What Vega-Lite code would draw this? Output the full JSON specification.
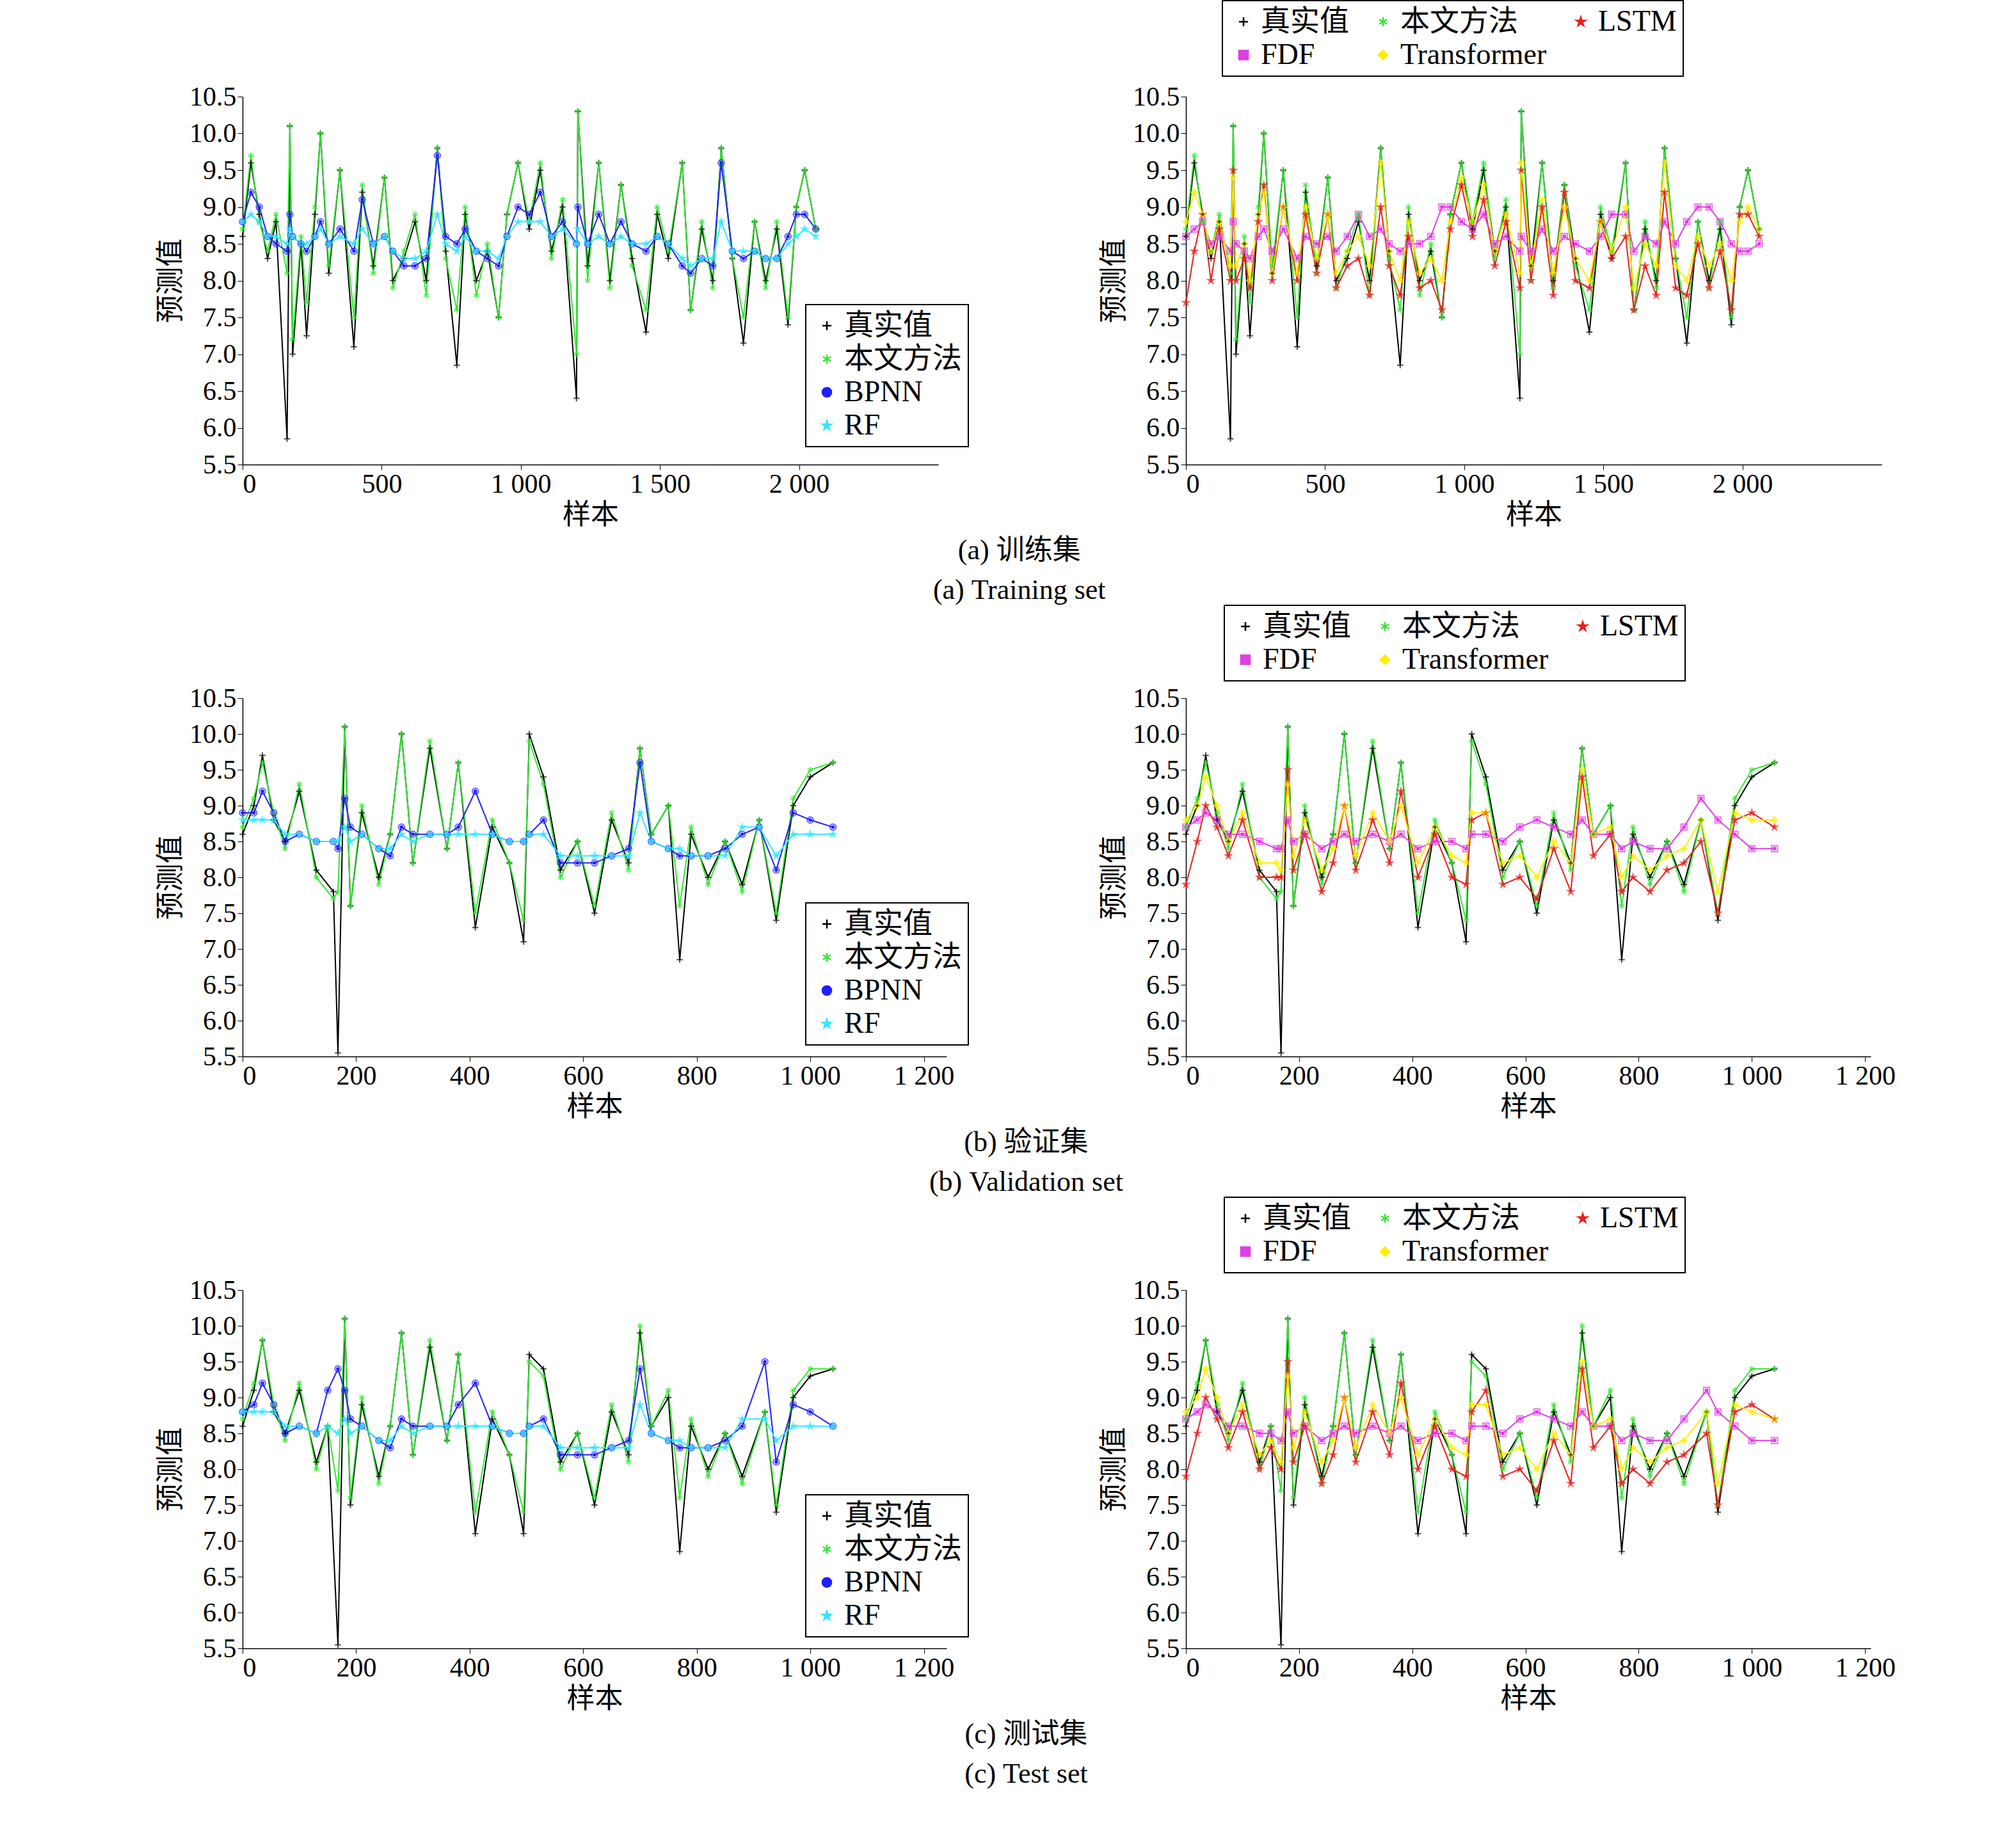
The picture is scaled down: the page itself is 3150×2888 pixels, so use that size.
{
  "$schema": "https://vega.github.io/schema/vega-lite/v6.json",
  "background": "white",
  "padding": {"left": 245, "top": 0, "right": 20, "bottom": 0},
  "config": {
    "view": {"stroke": null},
    "font": "Liberation Serif, Noto Sans CJK SC",
    "axis": {"grid": false, "domainColor": "#000", "tickColor": "#000", "labelColor": "#000", "titleColor": "#000", "labelFont": "Liberation Serif", "labelFontSize": 42, "titleFont": "Liberation Serif, Noto Sans CJK SC", "titleFontSize": 44, "titleFontWeight": "normal", "tickSize": 8, "domainWidth": 1.5, "titlePadding": 6},
    "legend": {"labelFont": "Liberation Serif, Noto Sans CJK SC", "labelFontSize": 46, "labelColor": "#000", "labelLimit": 0, "strokeColor": "#000", "strokeWidth": 2, "padding": 10, "symbolSize": 200, "symbolStrokeWidth": 2.5, "rowPadding": 6, "symbolFillColor": "transparent", "title": null},
    "title": {"font": "Liberation Serif, Noto Sans CJK SC", "fontSize": 44, "fontWeight": "normal", "color": "#000", "orient": "bottom", "anchor": "middle", "offset": 12, "lineHeight": 62}
  },
  "datasets": {
    "r1": [
      {"x":0,"t":8.6,"o":8.7,"b":8.8,"r":8.8,"l":7.7,"f":8.6,"y":8.8},
      {"x":30,"t":9.6,"o":9.7,"b":9.2,"r":8.9,"l":8.4,"f":8.7,"y":9.2},
      {"x":60,"t":8.9,"o":8.8,"b":9.0,"r":8.8,"l":8.9,"f":8.8,"y":8.9},
      {"x":90,"t":8.3,"o":8.4,"b":8.6,"r":8.6,"l":8.0,"f":8.5,"y":8.4},
      {"x":120,"t":8.8,"o":8.9,"b":8.5,"r":8.6,"l":8.7,"f":8.6,"y":8.8},
      {"x":160,"t":5.85,"o":8.1,"b":8.4,"r":8.5,"l":8.0,"f":8.4,"y":8.2},
      {"x":170,"t":10.1,"o":10.1,"b":8.9,"r":8.7,"l":9.5,"f":8.8,"y":9.4},
      {"x":180,"t":7.0,"o":7.2,"b":8.6,"r":8.6,"l":8.0,"f":8.5,"y":8.2},
      {"x":210,"t":8.5,"o":8.6,"b":8.5,"r":8.5,"l":8.3,"f":8.4,"y":8.5},
      {"x":230,"t":7.25,"o":7.7,"b":8.4,"r":8.5,"l":7.9,"f":8.3,"y":8.0},
      {"x":260,"t":8.9,"o":9.0,"b":8.6,"r":8.6,"l":8.8,"f":8.6,"y":8.9},
      {"x":280,"t":10.0,"o":10.0,"b":8.8,"r":8.7,"l":9.3,"f":8.7,"y":9.2},
      {"x":310,"t":8.1,"o":8.2,"b":8.5,"r":8.5,"l":8.0,"f":8.4,"y":8.1},
      {"x":350,"t":9.5,"o":9.5,"b":8.7,"r":8.6,"l":9.0,"f":8.7,"y":9.0},
      {"x":400,"t":7.1,"o":7.5,"b":8.4,"r":8.5,"l":8.0,"f":8.3,"y":8.1},
      {"x":430,"t":9.2,"o":9.3,"b":9.1,"r":8.7,"l":8.9,"f":8.6,"y":9.0},
      {"x":470,"t":8.2,"o":8.1,"b":8.5,"r":8.5,"l":8.1,"f":8.5,"y":8.3},
      {"x":510,"t":9.4,"o":9.4,"b":8.6,"r":8.6,"l":8.9,"f":8.6,"y":8.9},
      {"x":540,"t":8.0,"o":7.9,"b":8.4,"r":8.4,"l":7.9,"f":8.4,"y":8.1},
      {"x":580,"t":8.3,"o":8.4,"b":8.2,"r":8.3,"l":8.2,"f":8.6,"y":8.4},
      {"x":620,"t":8.8,"o":8.9,"b":8.2,"r":8.3,"l":8.3,"f":8.9,"y":8.6},
      {"x":660,"t":8.0,"o":7.8,"b":8.3,"r":8.4,"l":7.8,"f":8.6,"y":8.2},
      {"x":700,"t":9.8,"o":9.8,"b":9.7,"r":8.9,"l":9.0,"f":8.7,"y":9.6},
      {"x":730,"t":8.4,"o":8.3,"b":8.6,"r":8.5,"l":8.2,"f":8.5,"y":8.4},
      {"x":770,"t":6.85,"o":7.6,"b":8.5,"r":8.4,"l":7.8,"f":8.4,"y":8.0},
      {"x":800,"t":8.9,"o":9.0,"b":8.7,"r":8.6,"l":8.6,"f":8.5,"y":8.8},
      {"x":840,"t":8.0,"o":7.8,"b":8.4,"r":8.4,"l":7.9,"f":8.5,"y":8.1},
      {"x":880,"t":8.4,"o":8.5,"b":8.3,"r":8.4,"l":8.0,"f":8.6,"y":8.3},
      {"x":920,"t":7.5,"o":7.5,"b":8.2,"r":8.3,"l":7.6,"f":9.0,"y":8.0},
      {"x":950,"t":8.9,"o":8.9,"b":8.6,"r":8.6,"l":8.7,"f":9.0,"y":8.8},
      {"x":990,"t":9.6,"o":9.6,"b":9.0,"r":8.8,"l":9.3,"f":8.8,"y":9.4},
      {"x":1030,"t":8.7,"o":8.8,"b":8.9,"r":8.8,"l":8.6,"f":8.7,"y":8.8},
      {"x":1070,"t":9.5,"o":9.6,"b":9.2,"r":8.8,"l":9.1,"f":8.9,"y":9.3},
      {"x":1110,"t":8.4,"o":8.3,"b":8.6,"r":8.6,"l":8.2,"f":8.5,"y":8.4},
      {"x":1150,"t":9.0,"o":9.1,"b":8.8,"r":8.7,"l":8.8,"f":8.6,"y":8.9},
      {"x":1200,"t":6.4,"o":7.0,"b":8.5,"r":8.5,"l":7.9,"f":8.4,"y":8.1},
      {"x":1205,"t":10.3,"o":10.3,"b":9.0,"r":8.7,"l":9.5,"f":8.6,"y":9.6},
      {"x":1240,"t":8.2,"o":8.0,"b":8.5,"r":8.5,"l":8.0,"f":8.4,"y":8.2},
      {"x":1280,"t":9.6,"o":9.6,"b":8.9,"r":8.6,"l":9.0,"f":8.7,"y":9.1},
      {"x":1320,"t":8.0,"o":7.9,"b":8.5,"r":8.5,"l":7.8,"f":8.4,"y":8.1},
      {"x":1360,"t":9.3,"o":9.3,"b":8.8,"r":8.6,"l":9.2,"f":8.6,"y":9.0},
      {"x":1400,"t":8.3,"o":8.2,"b":8.5,"r":8.5,"l":8.0,"f":8.5,"y":8.3},
      {"x":1450,"t":7.3,"o":7.6,"b":8.4,"r":8.5,"l":7.9,"f":8.4,"y":8.0},
      {"x":1490,"t":8.9,"o":9.0,"b":8.6,"r":8.6,"l":8.8,"f":8.6,"y":8.8},
      {"x":1530,"t":8.3,"o":8.4,"b":8.5,"r":8.5,"l":8.3,"f":8.9,"y":8.4},
      {"x":1580,"t":9.6,"o":9.6,"b":8.2,"r":8.3,"l":8.6,"f":8.9,"y":9.0},
      {"x":1610,"t":7.6,"o":7.6,"b":8.1,"r":8.2,"l":7.6,"f":8.4,"y":7.9},
      {"x":1650,"t":8.7,"o":8.8,"b":8.3,"r":8.3,"l":8.2,"f":8.6,"y":8.5},
      {"x":1690,"t":8.0,"o":7.9,"b":8.2,"r":8.3,"l":7.8,"f":8.5,"y":8.2},
      {"x":1720,"t":9.8,"o":9.8,"b":9.6,"r":8.8,"l":9.2,"f":8.8,"y":9.6},
      {"x":1760,"t":8.3,"o":8.3,"b":8.4,"r":8.4,"l":7.9,"f":8.5,"y":8.2},
      {"x":1800,"t":7.15,"o":7.5,"b":8.3,"r":8.4,"l":7.8,"f":8.8,"y":8.0},
      {"x":1840,"t":8.8,"o":8.8,"b":8.4,"r":8.4,"l":8.5,"f":9.0,"y":8.6},
      {"x":1880,"t":8.0,"o":7.9,"b":8.3,"r":8.3,"l":7.9,"f":9.0,"y":8.2},
      {"x":1920,"t":8.7,"o":8.8,"b":8.3,"r":8.3,"l":8.4,"f":8.8,"y":8.5},
      {"x":1960,"t":7.4,"o":7.5,"b":8.6,"r":8.5,"l":7.6,"f":8.5,"y":8.0},
      {"x":1990,"t":9.0,"o":9.0,"b":8.9,"r":8.6,"l":8.9,"f":8.4,"y":8.8},
      {"x":2020,"t":9.5,"o":9.5,"b":8.9,"r":8.7,"l":8.9,"f":8.4,"y":9.0},
      {"x":2060,"t":8.7,"o":8.7,"b":8.7,"r":8.6,"l":8.6,"f":8.5,"y":8.7}
    ],
    "r2": [
      {"x":0,"t":8.6,"o":8.7,"b":8.9,"r":8.8,"l":7.9,"f":8.7,"y":8.8},
      {"x":20,"t":9.0,"o":9.1,"b":8.9,"r":8.8,"l":8.5,"f":8.8,"y":9.0},
      {"x":35,"t":9.7,"o":9.6,"b":9.2,"r":8.8,"l":9.0,"f":8.9,"y":9.4},
      {"x":55,"t":8.8,"o":8.9,"b":8.9,"r":8.8,"l":8.7,"f":8.8,"y":9.0},
      {"x":75,"t":8.5,"o":8.4,"b":8.5,"r":8.6,"l":8.3,"f":8.6,"y":8.5},
      {"x":100,"t":9.2,"o":9.3,"b":8.6,"r":8.6,"l":8.8,"f":8.6,"y":8.9},
      {"x":130,"t":8.1,"o":8.0,"b":8.5,"r":8.5,"l":8.0,"f":8.5,"y":8.2},
      {"x":160,"t":7.8,"o":7.7,"b":8.5,"r":8.5,"l":8.0,"f":8.4,"y":8.2},
      {"x":168,"t":5.55,"o":7.8,"b":8.4,"r":8.5,"l":8.0,"f":8.4,"y":8.1},
      {"x":180,"t":10.1,"o":10.1,"b":9.1,"r":8.7,"l":9.5,"f":8.8,"y":9.3},
      {"x":190,"t":7.6,"o":7.6,"b":8.7,"r":8.5,"l":8.1,"f":8.5,"y":8.3},
      {"x":210,"t":8.9,"o":9.0,"b":8.6,"r":8.6,"l":8.6,"f":8.6,"y":8.8},
      {"x":240,"t":8.0,"o":7.9,"b":8.4,"r":8.4,"l":7.8,"f":8.4,"y":8.1},
      {"x":260,"t":8.6,"o":8.6,"b":8.3,"r":8.4,"l":8.2,"f":8.5,"y":8.4},
      {"x":280,"t":10.0,"o":10.0,"b":8.7,"r":8.6,"l":9.0,"f":8.6,"y":9.0},
      {"x":300,"t":8.2,"o":8.2,"b":8.6,"r":8.5,"l":8.1,"f":8.5,"y":8.3},
      {"x":330,"t":9.8,"o":9.9,"b":8.6,"r":8.6,"l":8.8,"f":8.6,"y":8.9},
      {"x":360,"t":8.4,"o":8.4,"b":8.6,"r":8.6,"l":8.2,"f":8.5,"y":8.5},
      {"x":380,"t":9.6,"o":9.6,"b":8.7,"r":8.6,"l":9.2,"f":8.6,"y":9.0},
      {"x":410,"t":7.3,"o":7.5,"b":9.2,"r":8.6,"l":8.0,"f":8.4,"y":8.2},
      {"x":440,"t":8.7,"o":8.8,"b":8.6,"r":8.6,"l":8.6,"f":8.5,"y":8.7},
      {"x":470,"t":8.2,"o":8.2,"b":8.5,"r":8.5,"l":8.0,"f":8.5,"y":8.3},
      {"x":495,"t":7.1,"o":7.4,"b":8.5,"r":8.5,"l":7.9,"f":8.4,"y":8.2},
      {"x":505,"t":10.0,"o":9.9,"b":8.6,"r":8.6,"l":8.8,"f":8.6,"y":8.9},
      {"x":530,"t":9.4,"o":9.3,"b":8.8,"r":8.6,"l":8.9,"f":8.6,"y":8.9},
      {"x":560,"t":8.1,"o":8.0,"b":8.2,"r":8.3,"l":7.9,"f":8.5,"y":8.2},
      {"x":590,"t":8.5,"o":8.5,"b":8.2,"r":8.3,"l":8.0,"f":8.7,"y":8.3},
      {"x":620,"t":7.5,"o":7.6,"b":8.2,"r":8.3,"l":7.7,"f":8.8,"y":8.0},
      {"x":650,"t":8.8,"o":8.9,"b":8.3,"r":8.3,"l":8.4,"f":8.7,"y":8.5},
      {"x":680,"t":8.2,"o":8.1,"b":8.4,"r":8.3,"l":7.8,"f":8.6,"y":8.2},
      {"x":700,"t":9.8,"o":9.8,"b":9.6,"r":8.9,"l":9.4,"f":8.8,"y":9.5},
      {"x":720,"t":8.6,"o":8.6,"b":8.5,"r":8.5,"l":8.3,"f":8.6,"y":8.6},
      {"x":750,"t":9.0,"o":9.0,"b":8.4,"r":8.4,"l":8.6,"f":8.6,"y":8.7},
      {"x":770,"t":6.85,"o":7.6,"b":8.3,"r":8.4,"l":7.8,"f":8.4,"y":8.0},
      {"x":790,"t":8.6,"o":8.7,"b":8.3,"r":8.3,"l":8.0,"f":8.5,"y":8.3},
      {"x":820,"t":8.0,"o":7.9,"b":8.3,"r":8.3,"l":7.8,"f":8.4,"y":8.1},
      {"x":850,"t":8.5,"o":8.5,"b":8.4,"r":8.3,"l":8.1,"f":8.4,"y":8.3},
      {"x":880,"t":7.9,"o":7.8,"b":8.6,"r":8.7,"l":8.2,"f":8.7,"y":8.4},
      {"x":910,"t":8.8,"o":8.8,"b":8.7,"r":8.7,"l":8.5,"f":9.1,"y":8.8},
      {"x":940,"t":7.4,"o":7.5,"b":8.1,"r":8.3,"l":7.5,"f":8.8,"y":7.8},
      {"x":970,"t":9.0,"o":9.1,"b":8.9,"r":8.6,"l":8.8,"f":8.6,"y":8.9},
      {"x":1000,"t":9.4,"o":9.5,"b":8.8,"r":8.6,"l":8.9,"f":8.4,"y":8.8},
      {"x":1040,"t":9.6,"o":9.6,"b":8.7,"r":8.6,"l":8.7,"f":8.4,"y":8.8}
    ],
    "r3": [
      {"x":0,"t":8.6,"o":8.7,"b":8.8,"r":8.8,"l":7.9,"f":8.7,"y":8.8},
      {"x":20,"t":9.1,"o":9.2,"b":8.9,"r":8.8,"l":8.5,"f":8.8,"y":9.0},
      {"x":35,"t":9.8,"o":9.8,"b":9.2,"r":8.8,"l":9.0,"f":8.9,"y":9.4},
      {"x":55,"t":8.8,"o":8.9,"b":8.9,"r":8.8,"l":8.7,"f":8.8,"y":9.0},
      {"x":75,"t":8.5,"o":8.4,"b":8.5,"r":8.6,"l":8.3,"f":8.6,"y":8.5},
      {"x":100,"t":9.1,"o":9.2,"b":8.6,"r":8.6,"l":8.8,"f":8.6,"y":8.9},
      {"x":130,"t":8.1,"o":8.0,"b":8.5,"r":8.5,"l":8.0,"f":8.5,"y":8.2},
      {"x":150,"t":8.6,"o":8.6,"b":9.1,"r":8.6,"l":8.3,"f":8.5,"y":8.4},
      {"x":168,"t":5.55,"o":7.7,"b":9.4,"r":8.5,"l":8.0,"f":8.4,"y":8.1},
      {"x":180,"t":10.1,"o":10.1,"b":9.1,"r":8.7,"l":9.5,"f":8.8,"y":9.3},
      {"x":190,"t":7.5,"o":7.6,"b":8.7,"r":8.5,"l":8.1,"f":8.5,"y":8.3},
      {"x":210,"t":8.9,"o":9.0,"b":8.6,"r":8.6,"l":8.6,"f":8.6,"y":8.8},
      {"x":240,"t":7.9,"o":7.8,"b":8.4,"r":8.4,"l":7.8,"f":8.4,"y":8.1},
      {"x":260,"t":8.6,"o":8.6,"b":8.3,"r":8.4,"l":8.2,"f":8.5,"y":8.4},
      {"x":280,"t":9.9,"o":9.9,"b":8.7,"r":8.6,"l":9.0,"f":8.6,"y":9.0},
      {"x":300,"t":8.2,"o":8.2,"b":8.6,"r":8.5,"l":8.1,"f":8.5,"y":8.3},
      {"x":330,"t":9.7,"o":9.8,"b":8.6,"r":8.6,"l":8.8,"f":8.6,"y":8.9},
      {"x":360,"t":8.4,"o":8.4,"b":8.6,"r":8.6,"l":8.2,"f":8.5,"y":8.5},
      {"x":380,"t":9.6,"o":9.6,"b":8.9,"r":8.6,"l":9.2,"f":8.6,"y":9.0},
      {"x":410,"t":7.1,"o":7.4,"b":9.2,"r":8.6,"l":8.0,"f":8.4,"y":8.2},
      {"x":440,"t":8.7,"o":8.8,"b":8.6,"r":8.6,"l":8.6,"f":8.5,"y":8.7},
      {"x":470,"t":8.2,"o":8.2,"b":8.5,"r":8.5,"l":8.0,"f":8.5,"y":8.3},
      {"x":495,"t":7.1,"o":7.4,"b":8.5,"r":8.5,"l":7.9,"f":8.4,"y":8.2},
      {"x":505,"t":9.6,"o":9.5,"b":8.6,"r":8.6,"l":8.8,"f":8.6,"y":8.9},
      {"x":530,"t":9.4,"o":9.3,"b":8.7,"r":8.6,"l":9.1,"f":8.6,"y":8.9},
      {"x":560,"t":8.1,"o":8.0,"b":8.2,"r":8.3,"l":7.9,"f":8.5,"y":8.2},
      {"x":590,"t":8.5,"o":8.5,"b":8.2,"r":8.3,"l":8.0,"f":8.7,"y":8.3},
      {"x":620,"t":7.5,"o":7.6,"b":8.2,"r":8.3,"l":7.7,"f":8.8,"y":8.0},
      {"x":650,"t":8.8,"o":8.9,"b":8.3,"r":8.3,"l":8.4,"f":8.7,"y":8.5},
      {"x":680,"t":8.2,"o":8.1,"b":8.4,"r":8.3,"l":7.8,"f":8.6,"y":8.2},
      {"x":700,"t":9.9,"o":10.0,"b":9.4,"r":8.9,"l":9.4,"f":8.8,"y":9.5},
      {"x":720,"t":8.6,"o":8.6,"b":8.5,"r":8.5,"l":8.3,"f":8.6,"y":8.6},
      {"x":750,"t":9.0,"o":9.1,"b":8.4,"r":8.4,"l":8.6,"f":8.6,"y":8.7},
      {"x":770,"t":6.85,"o":7.6,"b":8.3,"r":8.4,"l":7.8,"f":8.4,"y":8.0},
      {"x":790,"t":8.6,"o":8.7,"b":8.3,"r":8.3,"l":8.0,"f":8.5,"y":8.3},
      {"x":820,"t":8.0,"o":7.9,"b":8.3,"r":8.3,"l":7.8,"f":8.4,"y":8.1},
      {"x":850,"t":8.5,"o":8.5,"b":8.4,"r":8.3,"l":8.1,"f":8.4,"y":8.3},
      {"x":880,"t":7.9,"o":7.8,"b":8.6,"r":8.7,"l":8.2,"f":8.7,"y":8.4},
      {"x":920,"t":8.8,"o":8.8,"b":9.5,"r":8.7,"l":8.5,"f":9.1,"y":8.8},
      {"x":940,"t":7.4,"o":7.5,"b":8.1,"r":8.4,"l":7.5,"f":8.8,"y":7.8},
      {"x":970,"t":9.0,"o":9.1,"b":8.9,"r":8.6,"l":8.8,"f":8.6,"y":8.9},
      {"x":1000,"t":9.3,"o":9.4,"b":8.8,"r":8.6,"l":8.9,"f":8.4,"y":8.8},
      {"x":1040,"t":9.4,"o":9.4,"b":8.6,"r":8.6,"l":8.7,"f":8.4,"y":8.7}
    ]
  },
  "resolve": {"scale": {"color": "independent", "shape": "independent"}, "legend": {"color": "independent", "shape": "independent"}},
  "spacing": 0,
  "vconcat": [
    {
      "title": {"text": ["(a) 训练集", "(a) Training set"]},
      "spacing": 205,
      "resolve": {"scale": {"color": "independent", "shape": "independent"}, "legend": {"color": "independent", "shape": "independent"}},
      "hconcat": [
        {
          "width": 1087, "height": 575,
          "data": {"name": "r1"},
          "transform": [{"fold": ["t", "o", "b", "r"], "as": ["k", "v"]}],
          "encoding": {
            "x": {"field": "x", "type": "quantitative", "title": "样本", "scale": {"domain": [0, 2500], "nice": false}, "axis": {"values": [0, 500, 1000, 1500, 2000], "labelExpr": "replace(format(datum.value, ','), ',', ' ')"}},
            "y": {"field": "v", "type": "quantitative", "title": "预测值", "scale": {"domain": [5.5, 10.5], "nice": false}, "axis": {"values": [5.5, 6, 6.5, 7, 7.5, 8, 8.5, 9, 9.5, 10, 10.5], "format": ".1f"}},
            "color": {"field": "k", "type": "nominal", "scale": {"domain": ["t", "o", "b", "r"], "range": ["#000000", "#33e633", "#1f1fff", "#33e6ff"]}, "legend": {"orient": "none", "legendX": 880, "legendY": 325, "labelExpr": "{'t':'真实值','o':'本文方法','b':'BPNN','r':'RF'}[datum.label]"}},
            "shape": {"field": "k", "type": "nominal", "scale": {"domain": ["t", "o", "b", "r"], "range": ["M0,-1L0,1M-1,0L1,0", "M0,-1L0,1M-0.87,-0.5L0.87,0.5M-0.87,0.5L0.87,-0.5", "circle", "M0,-1L0.22,-0.3L0.95,-0.3L0.36,0.12L0.59,0.81L0,0.38L-0.59,0.81L-0.36,0.12L-0.95,-0.3L-0.22,-0.3Z"]}, "legend": {"orient": "none", "legendX": 880, "legendY": 325, "labelExpr": "{'t':'真实值','o':'本文方法','b':'BPNN','r':'RF'}[datum.label]"}}
          },
          "layer": [
            {"mark": {"type": "line", "strokeWidth": 2}},
            {"mark": {"type": "point", "filled": false, "size": 90, "strokeWidth": 2}}
          ]
        },
        {
          "width": 1087, "height": 575,
          "data": {"name": "r1"},
          "transform": [{"fold": ["t", "o", "l", "f", "y"], "as": ["k", "v"]}],
          "encoding": {
            "x": {"field": "x", "type": "quantitative", "title": "样本", "scale": {"domain": [0, 2500], "nice": false}, "axis": {"values": [0, 500, 1000, 1500, 2000], "labelExpr": "replace(format(datum.value, ','), ',', ' ')"}},
            "y": {"field": "v", "type": "quantitative", "title": "预测值", "scale": {"domain": [5.5, 10.5], "nice": false}, "axis": {"values": [5.5, 6, 6.5, 7, 7.5, 8, 8.5, 9, 9.5, 10, 10.5], "format": ".1f"}},
            "color": {"field": "k", "type": "nominal", "scale": {"domain": ["t", "o", "l", "f", "y"], "range": ["#000000", "#33e633", "#e62020", "#e040e0", "#ffee00"]}, "legend": {"orient": "none", "legendX": 57, "legendY": -150, "direction": "horizontal", "columns": 3, "columnPadding": 30, "labelExpr": "{'t':'真实值','o':'本文方法','l':'LSTM','f':'FDF','y':'Transformer'}[datum.label]"}},
            "shape": {"field": "k", "type": "nominal", "scale": {"domain": ["t", "o", "l", "f", "y"], "range": ["M0,-1L0,1M-1,0L1,0", "M0,-1L0,1M-0.87,-0.5L0.87,0.5M-0.87,0.5L0.87,-0.5", "M0,-1L0.22,-0.3L0.95,-0.3L0.36,0.12L0.59,0.81L0,0.38L-0.59,0.81L-0.36,0.12L-0.95,-0.3L-0.22,-0.3Z", "square", "diamond"]}, "legend": {"orient": "none", "legendX": 57, "legendY": -150, "direction": "horizontal", "columns": 3, "columnPadding": 30, "labelExpr": "{'t':'真实值','o':'本文方法','l':'LSTM','f':'FDF','y':'Transformer'}[datum.label]"}}
          },
          "layer": [
            {"mark": {"type": "line", "strokeWidth": 2}},
            {"mark": {"type": "point", "filled": false, "size": 90, "strokeWidth": 2}}
          ]
        }
      ]
    },
    {
      "title": {"text": ["(b) 验证集", "(b) Validation set"]},
      "spacing": 205,
      "resolve": {"scale": {"color": "independent", "shape": "independent"}, "legend": {"color": "independent", "shape": "independent"}},
      "hconcat": [
        {
          "width": 1100, "height": 560,
          "data": {"name": "r2"},
          "transform": [{"fold": ["t", "o", "b", "r"], "as": ["k", "v"]}],
          "encoding": {
            "x": {"field": "x", "type": "quantitative", "title": "样本", "scale": {"domain": [0, 1240], "nice": false}, "axis": {"values": [0, 200, 400, 600, 800, 1000, 1200], "labelExpr": "replace(format(datum.value, ','), ',', ' ')"}},
            "y": {"field": "v", "type": "quantitative", "title": "预测值", "scale": {"domain": [5.5, 10.5], "nice": false}, "axis": {"values": [5.5, 6, 6.5, 7, 7.5, 8, 8.5, 9, 9.5, 10, 10.5], "format": ".1f"}},
            "color": {"field": "k", "type": "nominal", "scale": {"domain": ["t", "o", "b", "r"], "range": ["#000000", "#33e633", "#1f1fff", "#33e6ff"]}, "legend": {"orient": "none", "legendX": 880, "legendY": 320, "labelExpr": "{'t':'真实值','o':'本文方法','b':'BPNN','r':'RF'}[datum.label]"}},
            "shape": {"field": "k", "type": "nominal", "scale": {"domain": ["t", "o", "b", "r"], "range": ["M0,-1L0,1M-1,0L1,0", "M0,-1L0,1M-0.87,-0.5L0.87,0.5M-0.87,0.5L0.87,-0.5", "circle", "M0,-1L0.22,-0.3L0.95,-0.3L0.36,0.12L0.59,0.81L0,0.38L-0.59,0.81L-0.36,0.12L-0.95,-0.3L-0.22,-0.3Z"]}, "legend": {"orient": "none", "legendX": 880, "legendY": 320, "labelExpr": "{'t':'真实值','o':'本文方法','b':'BPNN','r':'RF'}[datum.label]"}}
          },
          "layer": [
            {"mark": {"type": "line", "strokeWidth": 2}},
            {"mark": {"type": "point", "filled": false, "size": 90, "strokeWidth": 2}}
          ]
        },
        {
          "width": 1070, "height": 560,
          "data": {"name": "r2"},
          "transform": [{"fold": ["t", "o", "l", "f", "y"], "as": ["k", "v"]}],
          "encoding": {
            "x": {"field": "x", "type": "quantitative", "title": "样本", "scale": {"domain": [0, 1210], "nice": false}, "axis": {"values": [0, 200, 400, 600, 800, 1000, 1200], "labelExpr": "replace(format(datum.value, ','), ',', ' ')"}},
            "y": {"field": "v", "type": "quantitative", "title": "预测值", "scale": {"domain": [5.5, 10.5], "nice": false}, "axis": {"values": [5.5, 6, 6.5, 7, 7.5, 8, 8.5, 9, 9.5, 10, 10.5], "format": ".1f"}},
            "color": {"field": "k", "type": "nominal", "scale": {"domain": ["t", "o", "l", "f", "y"], "range": ["#000000", "#33e633", "#e62020", "#e040e0", "#ffee00"]}, "legend": {"orient": "none", "legendX": 60, "legendY": -145, "direction": "horizontal", "columns": 3, "columnPadding": 30, "labelExpr": "{'t':'真实值','o':'本文方法','l':'LSTM','f':'FDF','y':'Transformer'}[datum.label]"}},
            "shape": {"field": "k", "type": "nominal", "scale": {"domain": ["t", "o", "l", "f", "y"], "range": ["M0,-1L0,1M-1,0L1,0", "M0,-1L0,1M-0.87,-0.5L0.87,0.5M-0.87,0.5L0.87,-0.5", "M0,-1L0.22,-0.3L0.95,-0.3L0.36,0.12L0.59,0.81L0,0.38L-0.59,0.81L-0.36,0.12L-0.95,-0.3L-0.22,-0.3Z", "square", "diamond"]}, "legend": {"orient": "none", "legendX": 60, "legendY": -145, "direction": "horizontal", "columns": 3, "columnPadding": 30, "labelExpr": "{'t':'真实值','o':'本文方法','l':'LSTM','f':'FDF','y':'Transformer'}[datum.label]"}}
          },
          "layer": [
            {"mark": {"type": "line", "strokeWidth": 2}},
            {"mark": {"type": "point", "filled": false, "size": 90, "strokeWidth": 2}}
          ]
        }
      ]
    },
    {
      "title": {"text": ["(c) 测试集", "(c) Test set"]},
      "spacing": 205,
      "resolve": {"scale": {"color": "independent", "shape": "independent"}, "legend": {"color": "independent", "shape": "independent"}},
      "hconcat": [
        {
          "width": 1100, "height": 560,
          "data": {"name": "r3"},
          "transform": [{"fold": ["t", "o", "b", "r"], "as": ["k", "v"]}],
          "encoding": {
            "x": {"field": "x", "type": "quantitative", "title": "样本", "scale": {"domain": [0, 1240], "nice": false}, "axis": {"values": [0, 200, 400, 600, 800, 1000, 1200], "labelExpr": "replace(format(datum.value, ','), ',', ' ')"}},
            "y": {"field": "v", "type": "quantitative", "title": "预测值", "scale": {"domain": [5.5, 10.5], "nice": false}, "axis": {"values": [5.5, 6, 6.5, 7, 7.5, 8, 8.5, 9, 9.5, 10, 10.5], "format": ".1f"}},
            "color": {"field": "k", "type": "nominal", "scale": {"domain": ["t", "o", "b", "r"], "range": ["#000000", "#33e633", "#1f1fff", "#33e6ff"]}, "legend": {"orient": "none", "legendX": 880, "legendY": 320, "labelExpr": "{'t':'真实值','o':'本文方法','b':'BPNN','r':'RF'}[datum.label]"}},
            "shape": {"field": "k", "type": "nominal", "scale": {"domain": ["t", "o", "b", "r"], "range": ["M0,-1L0,1M-1,0L1,0", "M0,-1L0,1M-0.87,-0.5L0.87,0.5M-0.87,0.5L0.87,-0.5", "circle", "M0,-1L0.22,-0.3L0.95,-0.3L0.36,0.12L0.59,0.81L0,0.38L-0.59,0.81L-0.36,0.12L-0.95,-0.3L-0.22,-0.3Z"]}, "legend": {"orient": "none", "legendX": 880, "legendY": 320, "labelExpr": "{'t':'真实值','o':'本文方法','b':'BPNN','r':'RF'}[datum.label]"}}
          },
          "layer": [
            {"mark": {"type": "line", "strokeWidth": 2}},
            {"mark": {"type": "point", "filled": false, "size": 90, "strokeWidth": 2}}
          ]
        },
        {
          "width": 1070, "height": 560,
          "data": {"name": "r3"},
          "transform": [{"fold": ["t", "o", "l", "f", "y"], "as": ["k", "v"]}],
          "encoding": {
            "x": {"field": "x", "type": "quantitative", "title": "样本", "scale": {"domain": [0, 1210], "nice": false}, "axis": {"values": [0, 200, 400, 600, 800, 1000, 1200], "labelExpr": "replace(format(datum.value, ','), ',', ' ')"}},
            "y": {"field": "v", "type": "quantitative", "title": "预测值", "scale": {"domain": [5.5, 10.5], "nice": false}, "axis": {"values": [5.5, 6, 6.5, 7, 7.5, 8, 8.5, 9, 9.5, 10, 10.5], "format": ".1f"}},
            "color": {"field": "k", "type": "nominal", "scale": {"domain": ["t", "o", "l", "f", "y"], "range": ["#000000", "#33e633", "#e62020", "#e040e0", "#ffee00"]}, "legend": {"orient": "none", "legendX": 60, "legendY": -145, "direction": "horizontal", "columns": 3, "columnPadding": 30, "labelExpr": "{'t':'真实值','o':'本文方法','l':'LSTM','f':'FDF','y':'Transformer'}[datum.label]"}},
            "shape": {"field": "k", "type": "nominal", "scale": {"domain": ["t", "o", "l", "f", "y"], "range": ["M0,-1L0,1M-1,0L1,0", "M0,-1L0,1M-0.87,-0.5L0.87,0.5M-0.87,0.5L0.87,-0.5", "M0,-1L0.22,-0.3L0.95,-0.3L0.36,0.12L0.59,0.81L0,0.38L-0.59,0.81L-0.36,0.12L-0.95,-0.3L-0.22,-0.3Z", "square", "diamond"]}, "legend": {"orient": "none", "legendX": 60, "legendY": -145, "direction": "horizontal", "columns": 3, "columnPadding": 30, "labelExpr": "{'t':'真实值','o':'本文方法','l':'LSTM','f':'FDF','y':'Transformer'}[datum.label]"}}
          },
          "layer": [
            {"mark": {"type": "line", "strokeWidth": 2}},
            {"mark": {"type": "point", "filled": false, "size": 90, "strokeWidth": 2}}
          ]
        }
      ]
    }
  ]
}
